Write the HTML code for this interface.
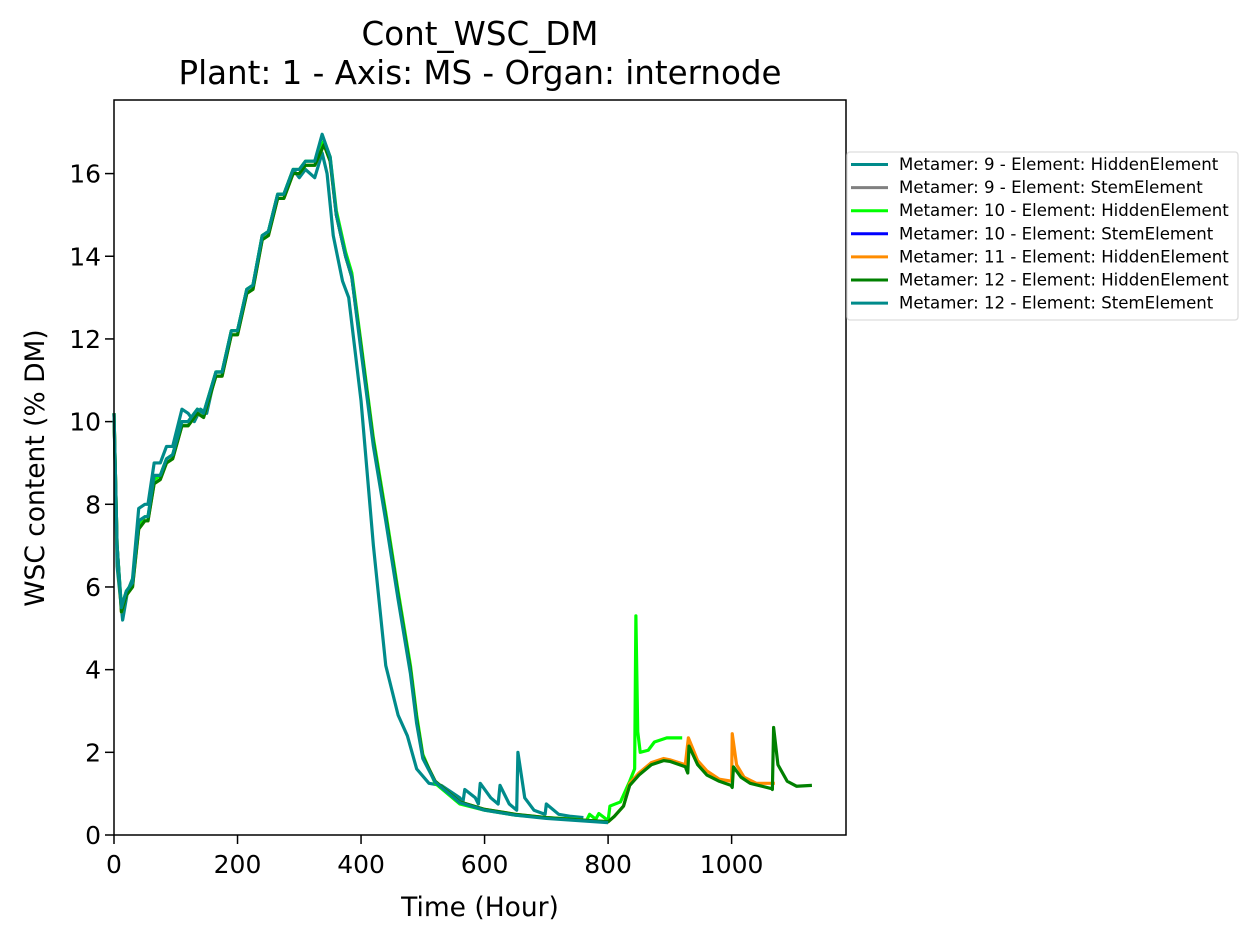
<!DOCTYPE html>
<html><head><meta charset="utf-8"><style>
body{margin:0;background:#fff}
svg text{font-family:"DejaVu Sans","Liberation Sans",sans-serif;fill:#000}
</style></head><body>
<svg id="chart" width="1257" height="942" xmlns="http://www.w3.org/2000/svg">
<text x="480" y="45" font-size="32.5" text-anchor="middle">Cont_WSC_DM</text>
<text x="480" y="84" font-size="32.5" text-anchor="middle">Plant: 1 - Axis: MS - Organ: internode</text>
<text x="480" y="916" font-size="26.5" text-anchor="middle">Time (Hour)</text>
<text transform="translate(44,468) rotate(-90)" font-size="26.5" text-anchor="middle">WSC content (% DM)</text>
<g id="ticks"></g>
<g id="lines"></g>
<rect x="114" y="100" width="732" height="735" fill="none" stroke="#000" stroke-width="1.5"/>
<g id="legend"></g>
</svg>
<script>
const xTicks=[0,200,400,600,800,1000];
const yTicks=[0,2,4,6,8,10,12,14,16];
const legendLabels=["Metamer: 9 - Element: HiddenElement","Metamer: 9 - Element: StemElement","Metamer: 10 - Element: HiddenElement","Metamer: 10 - Element: StemElement","Metamer: 11 - Element: HiddenElement","Metamer: 12 - Element: HiddenElement","Metamer: 12 - Element: StemElement"];
const legendColors=["#008b8b","#808080","#00ff00","#0000ff","#ff8c00","#008000","#008b8b"];

const greenH=[0,5,12,20,30,40,50,55,65,75,85,95,110,120,135,145,165,175,190,200,215,225,240,250,265,275,290,300,310,325,340,350,360,375,385,400,420,440,460,480,490,500,520,540,560,600,650,700,750,800,810,825,835,850,870,890,900,925,929,931,945,960,980,999,1001,1003,1015,1030,1065,1066,1068,1075,1090,1105,1130];
const greenV=[10.2,7,5.4,5.8,6.0,7.4,7.6,7.6,8.5,8.6,9.0,9.1,9.9,9.9,10.2,10.1,11.1,11.1,12.1,12.1,13.1,13.2,14.4,14.5,15.4,15.4,16.0,16.0,16.2,16.2,16.7,16.3,15.0,14.0,13.5,11.8,9.5,7.7,5.8,4.0,2.8,1.9,1.3,1.05,0.8,0.62,0.5,0.42,0.37,0.32,0.45,0.7,1.2,1.45,1.7,1.8,1.78,1.65,1.5,2.15,1.7,1.45,1.3,1.2,1.15,1.65,1.4,1.25,1.12,1.1,2.6,1.7,1.3,1.18,1.2];

const tealAH=[0,5,14,22,30,40,50,55,65,75,85,95,110,120,130,140,150,165,175,190,200,215,225,240,250,265,275,290,300,310,325,337,345,355,370,380,400,420,440,460,475,490,510,530,560,565,568,585,590,593,610,622,625,640,652,654,665,680,698,700,720,740,760];
const tealAV=[10.2,6.5,5.2,5.9,6.2,7.9,8.0,8.0,9.0,9.0,9.4,9.4,10.3,10.2,10.0,10.3,10.2,11.2,11.2,12.2,12.2,13.2,13.3,14.5,14.6,15.5,15.5,16.1,15.9,16.1,15.9,16.5,16.0,14.5,13.4,13.0,10.5,7.0,4.1,2.9,2.4,1.6,1.25,1.2,0.9,0.8,1.1,0.9,0.75,1.25,0.9,0.75,1.2,0.75,0.6,2.0,0.9,0.6,0.5,0.75,0.5,0.45,0.42];

const tealBH=[0,5,12,20,30,40,50,55,65,75,85,95,110,120,135,145,165,175,190,200,215,225,240,250,265,275,290,300,310,325,337,350,360,375,385,400,420,440,460,480,490,500,520,540,560,600,650,700,750,800];
const tealBV=[10.2,7,5.5,5.9,6.1,7.6,7.7,7.7,8.7,8.7,9.1,9.2,10.0,10.0,10.3,10.2,11.2,11.2,12.2,12.2,13.2,13.3,14.5,14.6,15.5,15.5,16.1,16.1,16.3,16.3,16.95,16.4,15.0,14.0,13.5,11.7,9.4,7.6,5.7,3.9,2.7,1.85,1.28,1.03,0.78,0.6,0.48,0.4,0.35,0.3];

const limeH=[0,5,12,20,30,40,50,55,65,75,85,95,110,120,135,145,165,175,190,200,215,225,240,250,265,275,290,300,310,325,340,350,360,375,385,400,420,440,460,480,490,500,520,540,560,600,650,700,750,765,770,780,785,800,803,820,835,843,845,848,852,865,875,895,920];
const limeV=[10.2,7,5.5,5.9,6.1,7.5,7.7,7.7,8.6,8.7,9.1,9.2,10.0,10.0,10.3,10.2,11.2,11.2,12.2,12.2,13.2,13.3,14.5,14.6,15.5,15.5,16.1,16.1,16.3,16.3,16.8,16.4,15.1,14.1,13.6,11.9,9.6,7.8,5.9,4.1,2.9,1.95,1.25,1.0,0.75,0.6,0.48,0.42,0.38,0.35,0.5,0.38,0.52,0.35,0.7,0.8,1.3,1.6,5.3,2.5,2.0,2.05,2.25,2.35,2.35];

const orangeH=[0,5,12,20,30,40,50,55,65,75,85,95,110,120,135,145,165,175,190,200,215,225,240,250,265,275,290,300,310,325,340,350,360,375,385,400,420,440,460,480,490,500,520,540,560,600,650,700,750,800,810,825,835,850,870,890,900,925,930,945,960,980,1000,1001,1008,1020,1040,1070];
const orangeV=[10.2,7,5.4,5.8,6.0,7.4,7.6,7.6,8.5,8.6,9.0,9.1,9.9,9.9,10.2,10.1,11.1,11.1,12.1,12.1,13.1,13.2,14.4,14.5,15.4,15.4,16.0,16.0,16.2,16.2,16.7,16.3,15.0,14.0,13.5,11.8,9.5,7.7,5.8,4.0,2.8,1.9,1.3,1.05,0.8,0.62,0.5,0.42,0.37,0.32,0.45,0.7,1.25,1.5,1.75,1.85,1.82,1.7,2.35,1.8,1.55,1.35,1.3,2.45,1.7,1.4,1.25,1.25];

const series=[
 {name:"tealA",h:tealAH,v:tealAV,c:"#008b8b"},
 {name:"lime",h:limeH,v:limeV,c:"#00ff00"},
 {name:"orange",h:orangeH,v:orangeV,c:"#ff8c00"},
 {name:"green",h:greenH,v:greenV,c:"#008000"},
 {name:"tealB",h:tealBH,v:tealBV,c:"#008b8b"}
];
const NS="http://www.w3.org/2000/svg";
const X0=114,X1=846,Y0=835,Y1=100,XMAX=1185.2,YMAX=17.78;
const sx=h=>X0+h/XMAX*(X1-X0);
const sy=v=>Y0-v/YMAX*(Y0-Y1);
const ticks=document.getElementById('ticks');
xTicks.forEach(t=>{
 const l=document.createElementNS(NS,'line');
 
 
 l.setAttribute('x1',sx(t));l.setAttribute('x2',sx(t));l.setAttribute('y1',Y0);l.setAttribute('y2',Y0+9);l.setAttribute('stroke','#000');l.setAttribute('stroke-width','1.5');
 ticks.appendChild(l);
 const tx=document.createElementNS(NS,'text');
 
 
 tx.setAttribute('x',sx(t));tx.setAttribute('y',Y0+38);tx.setAttribute('font-size','25');tx.setAttribute('text-anchor','middle');
 tx.textContent=t;ticks.appendChild(tx);
});
yTicks.forEach(t=>{
 const l=document.createElementNS(NS,'line');
 
 
 l.setAttribute('x1',X0-9);l.setAttribute('x2',X0);l.setAttribute('y1',sy(t));l.setAttribute('y2',sy(t));l.setAttribute('stroke','#000');l.setAttribute('stroke-width','1.5');
 ticks.appendChild(l);
 const tx=document.createElementNS(NS,'text');
 
 
 tx.setAttribute('x',X0-13);tx.setAttribute('y',sy(t)+9);tx.setAttribute('font-size','25');tx.setAttribute('text-anchor','end');
 tx.textContent=t;ticks.appendChild(tx);
});
const lines=document.getElementById('lines');
series.forEach(s=>{
 const p=document.createElementNS(NS,'polyline');
 
 
 p.setAttribute('points',s.h.map((h,i)=>sx(h)+','+sy(s.v[i])).join(' '));
 p.setAttribute('fill','none');p.setAttribute('stroke',s.c);p.setAttribute('stroke-width','3.2');p.setAttribute('stroke-linejoin','round');
 lines.appendChild(p);
});
const lg=document.getElementById('legend');
const box=document.createElementNS(NS,'rect');


box.setAttribute('x',847);box.setAttribute('y',152);box.setAttribute('width',391);box.setAttribute('height',168);box.setAttribute('rx',3);box.setAttribute('fill','#fff');box.setAttribute('fill-opacity','0.8');box.setAttribute('stroke','#ddd');box.setAttribute('stroke-width','1.3');
lg.appendChild(box);
legendLabels.forEach((lab,i)=>{
 const y=164.5+i*23.1;
 const l=document.createElementNS(NS,'line');
 
 
 l.setAttribute('x1',851);l.setAttribute('x2',888);l.setAttribute('y1',y);l.setAttribute('y2',y);l.setAttribute('stroke',legendColors[i]);l.setAttribute('stroke-width','3');
 lg.appendChild(l);
 const t=document.createElementNS(NS,'text');
 
 
 t.setAttribute('x',899);t.setAttribute('y',y+5.5);t.setAttribute('font-size','16.6');
 t.textContent=lab;lg.appendChild(t);
});
</script>
</body></html>
